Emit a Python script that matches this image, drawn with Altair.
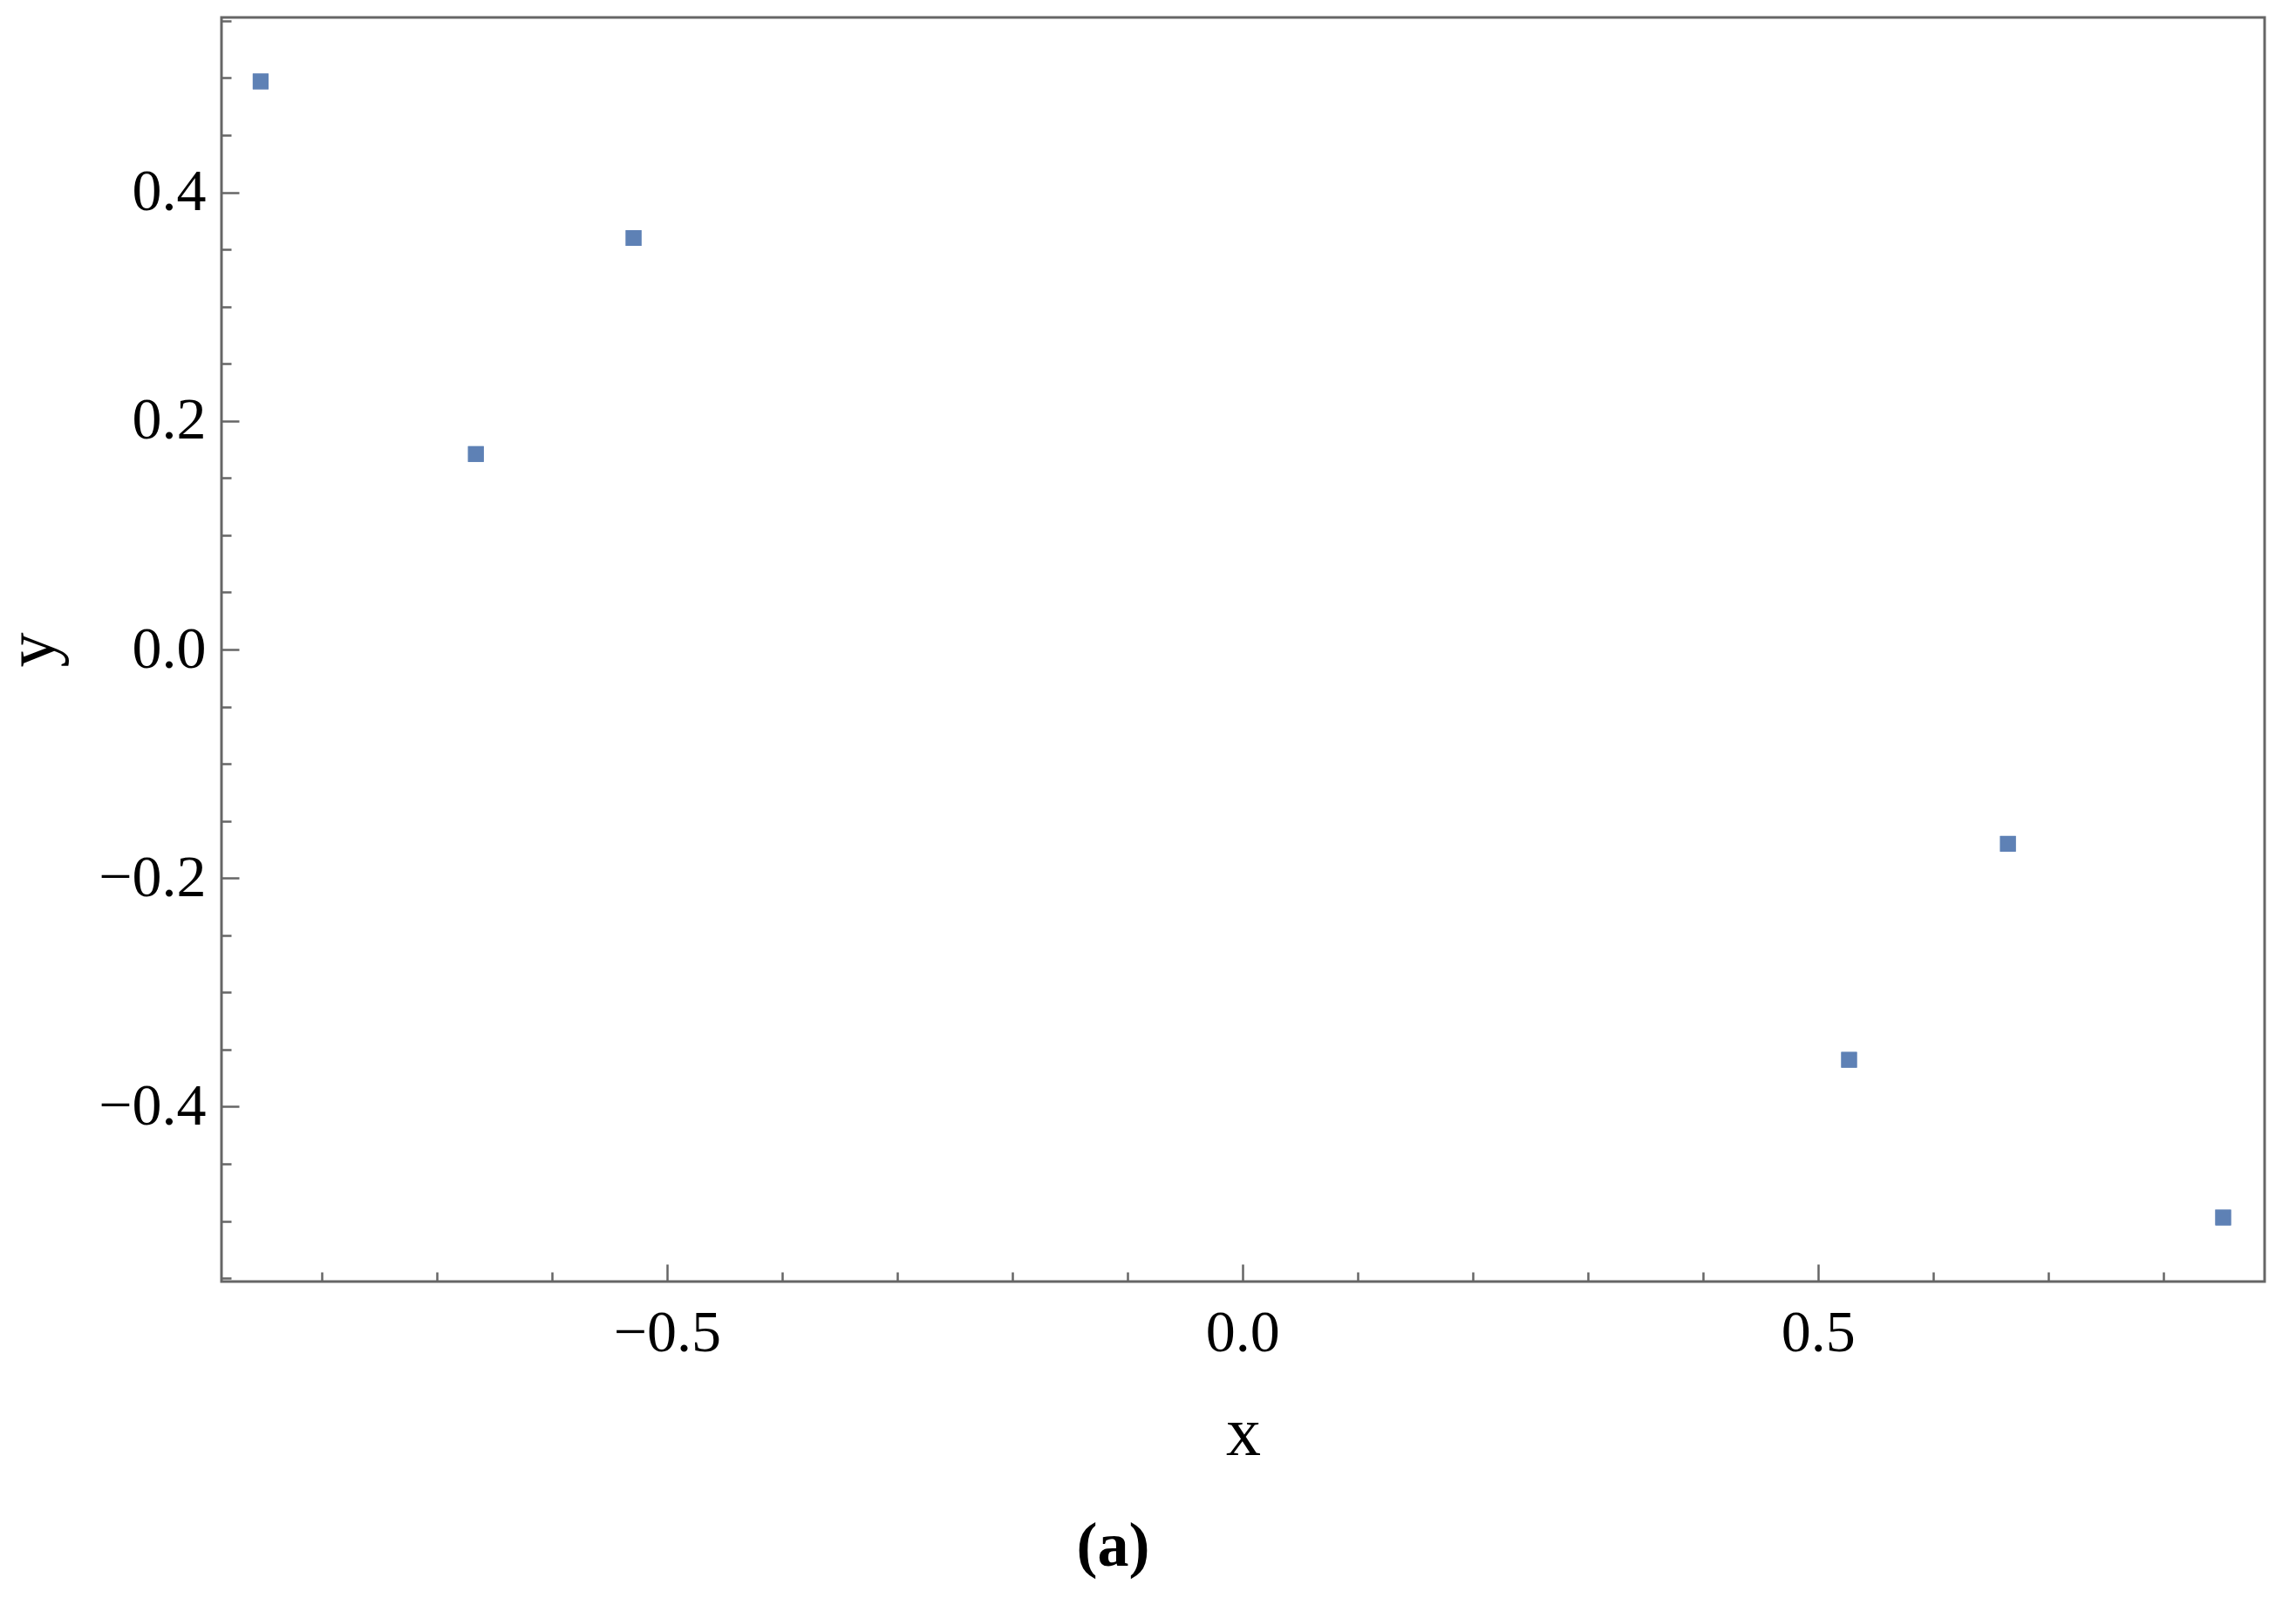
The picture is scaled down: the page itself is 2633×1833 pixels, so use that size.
import altair as alt
import pandas as pd

# ---- data ----
x_vals = [-0.853, -0.666, -0.529, 0.527, 0.665, 0.852]
y_vals = [0.497, 0.171, 0.360, -0.359, -0.170, -0.497]

x_domain = [-0.887, 0.888]
y_domain = [-0.553, 0.553]

x_label_values = [-0.5, 0.0, 0.5]
y_label_values = [-0.4, -0.2, 0.0, 0.2, 0.4]
x_tick_values = [-0.8, -0.7, -0.6, -0.5, -0.4, -0.3, -0.2, -0.1, 0.0,
                 0.1, 0.2, 0.3, 0.4, 0.5, 0.6, 0.7, 0.8]
y_tick_values = [-0.55, -0.5, -0.45, -0.4, -0.35, -0.3, -0.25, -0.2, -0.15,
                 -0.1, -0.05, 0.0, 0.05, 0.1, 0.15, 0.2, 0.25, 0.3, 0.35,
                 0.4, 0.45, 0.5, 0.55]

df = pd.DataFrame({"x": x_vals, "y": y_vals})

W, H = 2343, 1450
FONT = "Liberation Serif"
GRAY = "#666666"
PT = "#5E81B5"

xscale = alt.Scale(domain=x_domain, nice=False, zero=False)
yscale = alt.Scale(domain=y_domain, nice=False, zero=False)

# inward ticks: axes placed on the opposite side and shifted across the plot
ticks_layer = alt.Chart(df).mark_square(size=324, color=PT, opacity=1).encode(
    x=alt.X("x:Q", scale=xscale, axis=alt.Axis(
        orient="top", offset=-H, values=x_tick_values, labels=False,
        domain=False, grid=False, title="", tickColor=GRAY, tickWidth=2.5,
        tickSize={"condition": {"test": "abs(datum.value*2 - round(datum.value*2)) < 0.001", "value": 20}, "value": 11})),
    y=alt.Y("y:Q", scale=yscale, axis=alt.Axis(
        orient="right", offset=-W, values=y_tick_values, labels=False,
        domain=False, grid=False, title="", tickColor=GRAY, tickWidth=2.5,
        tickSize={"condition": {"test": "abs(datum.value*5 - round(datum.value*5)) < 0.001", "value": 20}, "value": 11})),
)

points_layer = alt.Chart(df).mark_square(size=324, color=PT, opacity=1).encode(
    x=alt.X("x:Q", scale=xscale, axis=alt.Axis(
        orient="bottom", values=x_label_values, format=".1f", ticks=False,
        tickSize=0, domain=False, grid=False, labelFont=FONT,
        labelFontSize=68, labelColor="black", labelPadding=25,
        title="x", titleFont=FONT, titleFontSize=80, titleFontWeight="normal",
        titleColor="black", titlePadding=42)),
    y=alt.Y("y:Q", scale=yscale, axis=alt.Axis(
        orient="left", values=y_label_values, format=".1f", ticks=False,
        tickSize=0, domain=False, grid=False, labelFont=FONT,
        labelFontSize=68, labelColor="black", labelPadding=18,
        title="y", titleFont=FONT, titleFontSize=80, titleFontWeight="normal",
        titleColor="black", titlePadding=34)),
)

chart = alt.layer(ticks_layer, points_layer).resolve_axis(
    x="independent", y="independent"
).properties(
    width=W, height=H,
    autosize=alt.AutoSizeParams(type="none"),
    padding={"left": 246, "top": 12, "right": 20, "bottom": 350},
    title=alt.TitleParams(text="(a)", orient="bottom", anchor="middle",
                          frame="group", font=FONT, fontSize=72,
                          fontWeight="bold", color="black", dx=-149, offset=55),
).configure_view(stroke=GRAY, strokeWidth=3)

chart.save("out.html", embed_options={"renderer": "svg", "actions": False})
